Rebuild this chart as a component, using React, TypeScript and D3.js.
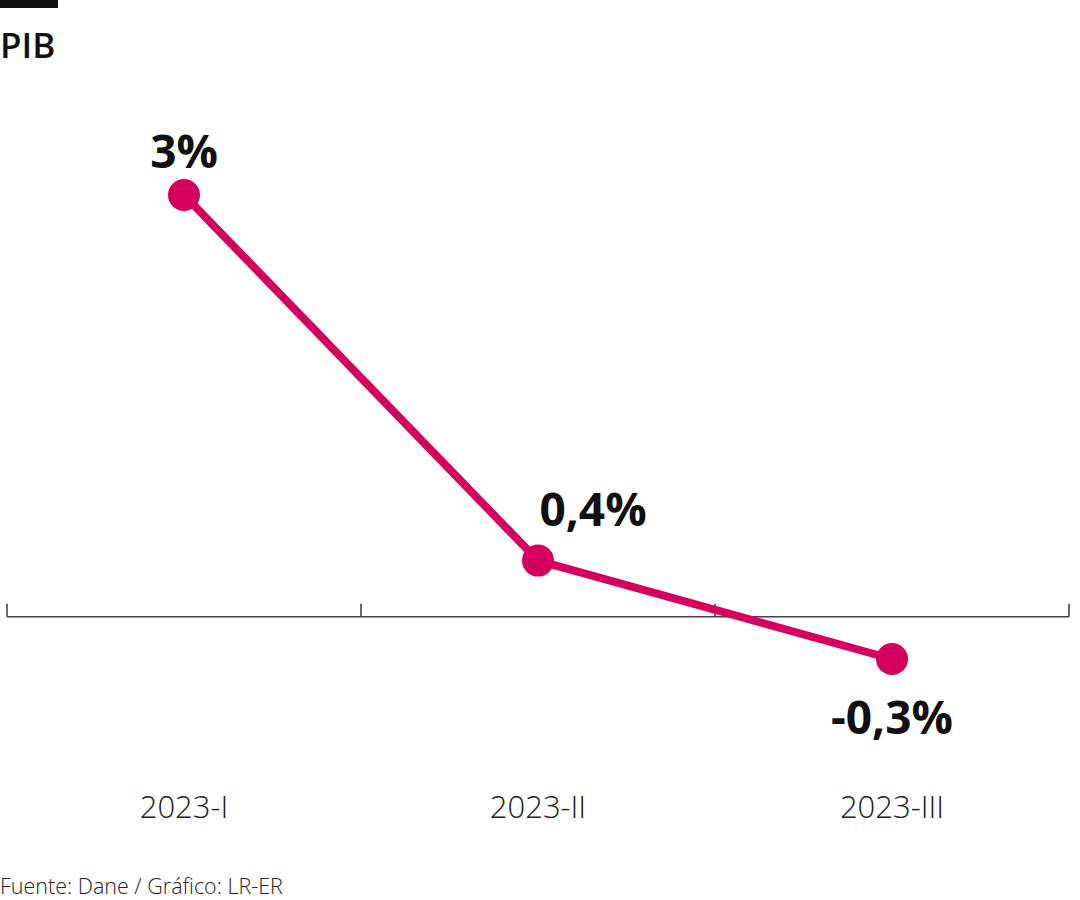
import React from "react";
import * as d3 from "d3";

const categories = ["2023-I", "2023-II", "2023-III"];
const values = [3, 0.4, -0.3];
const valueLabels = ["3%", "0,4%", "-0,3%"];
const title = "PIB";
const source = "Fuente: Dane / Gráfico: LR-ER";

const W = 1080;
const H = 900;
const COLOR = "#d5005e";
const FONT = "'Open Sans', 'Noto Sans', sans-serif";

export default function App() {
  const x = d3.scaleBand<string>().domain(categories).range([7, 1069]);
  const y = d3.scaleLinear().domain([-0.3, 3]).range([659, 195]);
  const y0 = y(0);
  const line = d3
    .line<number>()
    .x((_, i) => (x(categories[i]) as number) + x.bandwidth() / 2)
    .y((d) => y(d));
  const tickXs = [...categories.map((c) => x(c) as number), 1069];
  const labelOffsets = [
    { dx: 0, dy: -27, anchor: "middle" },
    { dx: 55, dy: -35, anchor: "middle" },
    { dx: 0, dy: 75, anchor: "middle" },
  ];
  return (
    <svg
      width={W}
      height={H}
      style={{ position: "absolute", left: 0, top: 0, background: "#fff" }}
      fontFamily={FONT}
    >
      <rect x={0} y={0} width={58} height={8} fill="#111" />
      <text x={0} y={58} fontSize={35} fontWeight={600} fill="#111">
        {title}
      </text>
      <line x1={7} x2={1069} y1={y0} y2={y0} stroke="#444" strokeWidth={1.6} />
      {tickXs.map((tx, i) => (
        <line key={i} x1={tx} x2={tx} y1={y0 - 13} y2={y0} stroke="#444" strokeWidth={1.6} />
      ))}
      <path d={line(values) as string} fill="none" stroke={COLOR} strokeWidth={8} strokeLinejoin="round" />
      {values.map((v, i) => {
        const cx = (x(categories[i]) as number) + x.bandwidth() / 2;
        const cy = y(v);
        const o = labelOffsets[i];
        return (
          <g key={i}>
            <circle cx={cx} cy={cy} r={16} fill={COLOR} />
            <text
              x={cx + o.dx}
              y={cy + o.dy}
              textAnchor={o.anchor}
              fontSize={46}
              fontWeight={700}
              fill="#111"
            >
              {valueLabels[i]}
            </text>
          </g>
        );
      })}
      {categories.map((c, i) => (
        <text
          key={c}
          x={(x(c) as number) + x.bandwidth() / 2}
          y={818}
          textAnchor="middle"
          fontSize={31}
          fontWeight={300}
          fill="#222"
        >
          {c}
        </text>
      ))}
      <text x={0} y={894} fontSize={21.5} fontWeight={300} fill="#222">
        {source}
      </text>
    </svg>
  );
}
